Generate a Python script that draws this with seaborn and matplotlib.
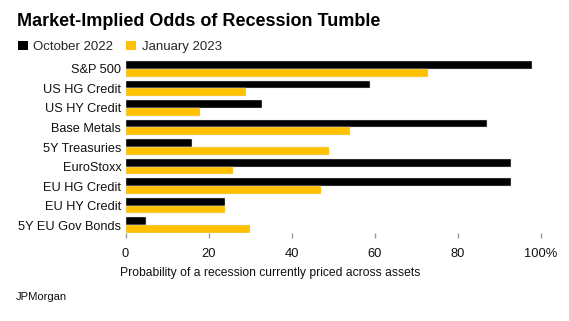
import matplotlib
matplotlib.use("Agg")
import matplotlib.pyplot as plt
from matplotlib.patches import Patch
import pandas as pd
import seaborn as sns

assets = ["S&P 500", "US HG Credit", "US HY Credit", "Base Metals", "5Y Treasuries",
          "EuroStoxx", "EU HG Credit", "EU HY Credit", "5Y EU Gov Bonds"]
oct_2022 = [98, 59, 33, 87, 16, 93, 93, 24, 5]
jan_2023 = [73, 29, 18, 54, 49, 26, 47, 24, 30]
periods = ["October 2022", "January 2023"]
colors = ["#000000", "#FFC100"]
xticks = [0, 20, 40, 60, 80, 100]
xticklabels = ["0", "20", "40", "60", "80", "100%"]

df = pd.DataFrame({
    "asset": assets * 2,
    "period": [periods[0]] * len(assets) + [periods[1]] * len(assets),
    "value": oct_2022 + jan_2023,
})

sns.set_theme(style="white")
plt.rcParams["font.family"] = ["Liberation Sans", "DejaVu Sans"]

W, H = 569, 321
fig = plt.figure(figsize=(W / 100, H / 100), dpi=100)
ax = fig.add_axes([125.5 / W, 1 - 233 / H, 415 / W, 172 / H])

sns.barplot(data=df, y="asset", x="value", hue="period", order=assets,
            hue_order=periods, palette=colors, saturation=1, width=0.82, orient="h",
            edgecolor="#dddddd", linewidth=0.3, ax=ax, legend=False)

ax.set_xlim(0, 100)
ax.set_ylim(len(assets) - 1 + 0.41, -0.41)
ax.set_xticks(xticks)
ax.set_xticklabels(xticklabels)
ax.set_xlabel("")
ax.set_ylabel("")
for s in ax.spines.values():
    s.set_visible(False)
ax.tick_params(axis="x", length=3.5, width=1, color="#9a9a9a", direction="out",
               pad=7, labelsize=9.3, labelcolor="#111111", bottom=True)
ax.tick_params(axis="y", length=0, pad=3, labelsize=9.2, labelcolor="#111111")

fig.text(17 / W, 1 - 21 / H, "Market-Implied Odds of Recession Tumble",
         fontsize=13, fontweight="bold", va="center", ha="left", color="#000000")

handles = [Patch(facecolor=c, edgecolor="none") for c in colors]
fig.legend(handles, periods, loc="center left", bbox_to_anchor=(18 / W, 1 - 47 / H),
           ncol=2, frameon=False, fontsize=9.5, handlelength=0.75, handleheight=0.75,
           handletextpad=0.4, columnspacing=1.0, borderaxespad=0, borderpad=0)

fig.text(270 / W, 1 - 273 / H, "Probability of a recession currently priced across assets",
         fontsize=8.7, ha="center", va="center", color="#111111")
fig.text(16 / W, 1 - 297 / H, "JPMorgan", fontsize=8.1, ha="left", va="center",
         color="#111111")

fig.savefig("out.png", dpi=100, facecolor="white")
